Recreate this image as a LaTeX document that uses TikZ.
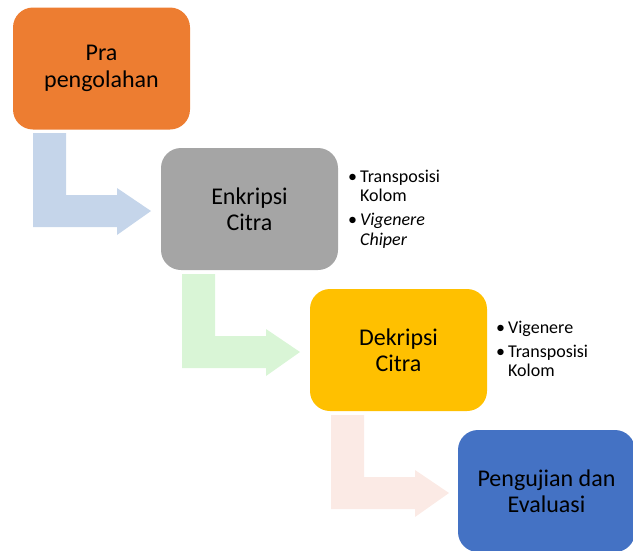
\documentclass[tikz,border=0pt]{standalone}
\usepackage{fontspec}
\setmainfont{Carlito}
\definecolor{corange}{HTML}{ED7D31}
\definecolor{cgray}{HTML}{A5A5A5}
\definecolor{cyellow}{HTML}{FFC000}
\definecolor{cblue}{HTML}{4472C4}
\definecolor{arblue}{HTML}{C5D5EA}
\definecolor{argreen}{HTML}{D9F5D6}
\definecolor{arpink}{HTML}{FBEAE5}
\tikzset{
  stepbox/.style={rectangle, rounded corners=20pt, minimum width=177pt, minimum height=122pt,
    inner sep=0pt, align=center, font=\fontsize{24}{26.4}\selectfont, text=black},
  bullist/.style={anchor=base west, inner sep=0pt, font=\fontsize{18}{19.5}\selectfont, text=black},
  bentarrow/.style={draw=none}
}
\begin{document}
\begin{tikzpicture}[x=1pt,y=-1pt]
\useasboundingbox (0,0) rectangle (633,550);
% bent arrows
\fill[arblue]  (33,133) -- (66,133) -- (66,195) -- (117,195) -- (117,188) -- (151,211) -- (117,235) -- (117,227) -- (33,227) -- cycle;
\fill[argreen] (182,274) -- (215,274) -- (215,336) -- (266,336) -- (266,329) -- (300,352) -- (266,376) -- (266,368) -- (182,368) -- cycle;
\fill[arpink]  (331,415) -- (364,415) -- (364,477) -- (415,477) -- (415,470) -- (449,493) -- (415,517) -- (415,509) -- (331,509) -- cycle;
% boxes
\node[stepbox, fill=corange] (pra) at (101.5,68.5) {Pra\\pengolahan};
\node[stepbox, fill=cgray] (enk) at (249.5,209) {Enkripsi\\Citra};
\node[stepbox, fill=cyellow] (dek) at (398.5,350) {Dekripsi\\Citra};
\node[stepbox, fill=cblue] (uji) at (546.5,491) {Pengujian dan\\Evaluasi};
% bullet lists
\node[bullist] (l1) at (348,182) {\begin{tabular}[t]{@{}l@{\hspace{3pt}}l@{}}\textbullet & Transposisi\\ & Kolom\\[4.5pt] \textbullet & \textit{Vigenere}\\ & \textit{Chiper}\end{tabular}};
\node[bullist] (l2) at (496,333) {\begin{tabular}[t]{@{}l@{\hspace{3pt}}l@{}}\textbullet & Vigenere\\[4.5pt] \textbullet & Transposisi\\ & Kolom\end{tabular}};
\end{tikzpicture}
\end{document}
